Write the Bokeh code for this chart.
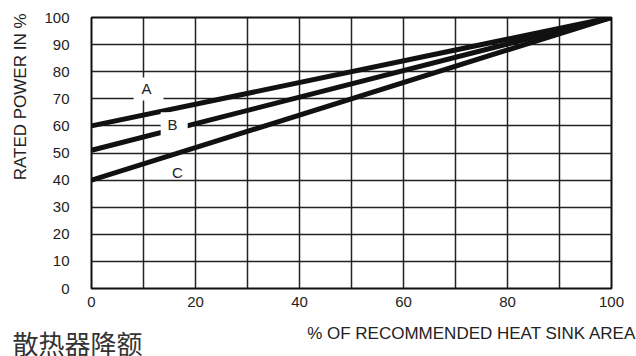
import math
from bokeh.plotting import figure
from bokeh.models import FixedTicker, Label, Range1d, Title
from bokeh.embed import file_html
from bokeh.resources import INLINE

# ---- data ----
heat_sink_area = [0, 100]
power_a = [60, 100]
power_b = [51, 100]
power_c = [40, 100]
curve_labels = ["A", "B", "C"]
x_tick_values = [0, 20, 40, 60, 80, 100]
x_grid_values = [0, 10, 20, 30, 40, 50, 60, 70, 80, 90, 100]
y_tick_values = [0, 10, 20, 30, 40, 50, 60, 70, 80, 90, 100]

# label placement (styles)
label_pos = {"A": (10.6, 73.8), "B": (15.6, 60.7), "C": (16.5, 42.8)}
box_a = dict(left=8.1, right=13.85, bottom=69.4, top=77.9)
box_b = dict(left=13.3, right=18.5, bottom=55.6, top=65.0)

FONT = "Liberation Sans"
TXT = "#222222"

p = figure(width=636, height=356, x_range=Range1d(0, 100), y_range=Range1d(0, 100),
           output_backend="svg", toolbar_location=None,
           min_border_left=91, min_border_right=25, min_border_top=17, min_border_bottom=68)

p.background_fill_color = "white"
p.border_fill_color = "white"
p.outline_line_color = "#111111"
p.outline_line_width = 2

p.xaxis.ticker = FixedTicker(ticks=x_tick_values)
p.xgrid.ticker = FixedTicker(ticks=x_grid_values)
p.yaxis.ticker = FixedTicker(ticks=y_tick_values)
p.ygrid.ticker = FixedTicker(ticks=y_tick_values)

for g in (p.xgrid, p.ygrid):
    g.grid_line_color = "#222222"
    g.grid_line_width = 1.5
    g.grid_line_alpha = 1.0

for ax in (p.xaxis, p.yaxis):
    ax.axis_line_color = None
    ax.major_tick_line_color = None
    ax.minor_tick_line_color = None
    ax.major_label_text_font = FONT
    ax.major_label_text_font_size = "15px"
    ax.major_label_text_color = TXT
p.xaxis.major_label_standoff = 2
p.yaxis.major_label_standoff = 16

for ys in (power_a, power_b, power_c):
    p.line(heat_sink_area, ys, line_width=5, line_color="#111111")

p.quad(left=[box_a["left"], box_b["left"]], right=[box_a["right"], box_b["right"]],
       bottom=[box_a["bottom"], box_b["bottom"]], top=[box_a["top"], box_b["top"]],
       fill_color="white", line_color=None)

for name in curve_labels:
    x, y = label_pos[name]
    p.add_layout(Label(x=x, y=y, text=name, text_align="center", text_baseline="middle",
                       text_font=FONT, text_font_size="15px", text_color=TXT))

p.add_layout(Title(text="RATED POWER IN %", align="right", offset=-4, standoff=20,
                   vertical_align="top",
                   text_font=FONT, text_font_size="17px", text_font_style="normal",
                   text_color=TXT), "left")
p.add_layout(Title(text="% OF RECOMMENDED HEAT SINK AREA", align="right", offset=-25, standoff=25,
                   text_font=FONT, text_font_size="17px", text_font_style="normal",
                   text_color=TXT), "below")
p.add_layout(Title(text="散热器降额", align="left", offset=-79, standoff=-64,
                   vertical_align="top",
                   text_font="Noto Sans CJK SC", text_font_size="26px", text_font_style="normal",
                   text_color="#333333"), "below")

open("out.html", "w").write(file_html(p, INLINE))
